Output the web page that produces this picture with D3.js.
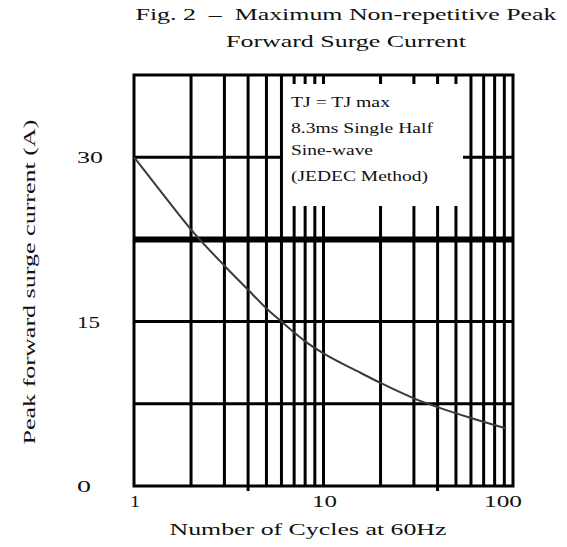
<!DOCTYPE html>
<html>
<head>
<meta charset="utf-8">
<script src="https://cdn.jsdelivr.net/npm/d3@7"></script>
<style>
  body { margin: 0; background: #fff; }
  svg { display: block; }
  text { font-family: "Liberation Serif", "Times New Roman", serif; fill: #111; }
  text.title { white-space: pre; }
</style>
</head>
<body>
<svg id="chart" width="567" height="547"></svg>
<script>
// data
var cycles  = [1, 1.5, 2, 3, 4, 5, 6, 7, 8, 10, 15, 20, 30, 40, 60, 92];
var current = [30, 26.1, 23.4, 20.1, 17.9, 16.2, 15.0, 14.0, 13.2, 12.1, 10.5, 9.4, 8.0, 7.2, 6.2, 5.25];

var xGrid = [2, 3, 4, 5, 6, 7, 8, 9, 10, 20, 30, 40, 50, 60, 70, 80, 90];
var xLongTicks = [4, 40];
var xTickLabels = [1, 10, 100];
var yGrid = [7.5, 15, 30];
var yHeavy = 22.5;
var yTickLabels = [0, 15, 30];

var titleLines = ["Fig. 2  \u2013  Maximum Non-repetitive Peak", "Forward Surge Current"];
var noteLines = ["TJ = TJ max", "8.3ms Single Half", "Sine-wave", "(JEDEC Method)"];

var margin = {left: 134, right: 54, top: 75, bottom: 61};
var W = 567, H = 547;
var svg = d3.select('#chart');

var x = d3.scaleLog().domain([1, 100]).range([margin.left, W - margin.right]);
var y = d3.scaleLinear().domain([0, 37.5]).range([H - margin.bottom, margin.top]);

var g = svg.append('g');

// vertical grid
g.selectAll('line.vgrid').data(xGrid).enter().append('line')
  .attr('class', 'vgrid')
  .attr('x1', d => x(d)).attr('x2', d => x(d))
  .attr('y1', y(37.5))
  .attr('y2', d => xLongTicks.indexOf(d) >= 0 ? y(0) + 5 : y(0))
  .attr('stroke', '#000').attr('stroke-width', 3);

// horizontal grid
g.selectAll('line.hgrid').data(yGrid).enter().append('line')
  .attr('class', 'hgrid')
  .attr('x1', x(1)).attr('x2', x(100))
  .attr('y1', d => y(d)).attr('y2', d => y(d))
  .attr('stroke', '#000').attr('stroke-width', 3);

g.append('line')
  .attr('x1', x(1)).attr('x2', x(100))
  .attr('y1', y(yHeavy)).attr('y2', y(yHeavy))
  .attr('stroke', '#000').attr('stroke-width', 6);

// note box covers the grid
var note = g.append('g');
note.append('rect')
  .attr('x', 283).attr('y', 84).attr('width', 180).attr('height', 122)
  .attr('fill', '#fff');
note.selectAll('text').data(noteLines).enter().append('text')
  .attr('x', 291)
  .attr('y', (d, i) => [107, 133, 155, 181][i])
  .attr('font-size', 14)
  .attr('textLength', (d, i) => [99, 142, 82, 137][i])
  .attr('lengthAdjust', 'spacingAndGlyphs')
  .text(d => d);

// frame
g.append('rect')
  .attr('x', x(1)).attr('y', y(37.5))
  .attr('width', x(100) - x(1)).attr('height', y(0) - y(37.5))
  .attr('fill', 'none').attr('stroke', '#000').attr('stroke-width', 3);

// curve
var line = d3.line()
  .x((d, i) => x(cycles[i]))
  .y(d => y(d))
  .curve(d3.curveMonotoneX);

g.append('path')
  .datum(current)
  .attr('d', line)
  .attr('fill', 'none')
  .attr('stroke', '#3a3a3a')
  .attr('stroke-width', 2);

// tick labels
g.selectAll('text.xt').data(xTickLabels).enter().append('text')
  .attr('class', 'xt')
  .attr('x', (d, i) => x(d) + [1, 1, -10][i])
  .attr('y', 507)
  .attr('text-anchor', 'middle')
  .attr('font-size', 16)
  .attr('textLength', (d, i) => [10, 25, 38][i])
  .attr('lengthAdjust', 'spacingAndGlyphs')
  .text(d => d);

g.selectAll('text.yt').data(yTickLabels).enter().append('text')
  .attr('class', 'yt')
  .attr('x', 77)
  .attr('y', d => y(d) + 6)
  .attr('font-size', 16)
  .attr('textLength', (d, i) => [14, 23, 26][i])
  .attr('lengthAdjust', 'spacingAndGlyphs')
  .text(d => d);

// titles
svg.selectAll('text.title').data(titleLines).enter().append('text')
  .attr('class', 'title')
  .attr('x', 346)
  .attr('y', (d, i) => [20, 47][i])
  .attr('text-anchor', 'middle')
  .attr('font-size', 16)
  .attr('textLength', (d, i) => [421, 240][i])
  .attr('lengthAdjust', 'spacingAndGlyphs')
  .text(d => d);

svg.append('text')
  .attr('x', 308).attr('y', 535)
  .attr('text-anchor', 'middle')
  .attr('font-size', 16)
  .attr('textLength', 277)
  .attr('lengthAdjust', 'spacingAndGlyphs')
  .text('Number of Cycles at 60Hz');

svg.append('text')
  .attr('transform', 'translate(35,282) rotate(-90)')
  .attr('text-anchor', 'middle')
  .attr('font-size', 16)
  .attr('textLength', 325)
  .attr('lengthAdjust', 'spacingAndGlyphs')
  .text('Peak forward surge current (A)');
</script>
</body>
</html>
